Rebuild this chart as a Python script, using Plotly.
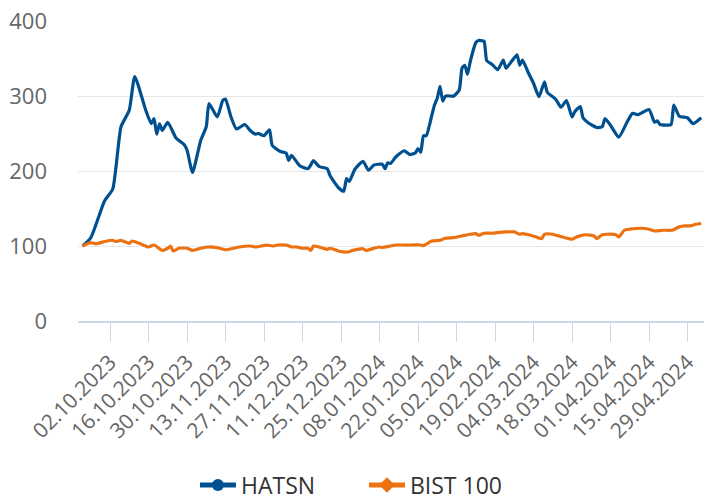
import plotly.graph_objects as go

# ---------------- data ----------------
hatsn_dates = [
    "2023-09-22", "2023-09-25", "2023-09-30", "2023-10-03", "2023-10-06", "2023-10-09",
    "2023-10-11", "2023-10-15", "2023-10-17", "2023-10-18", "2023-10-19", "2023-10-20",
    "2023-10-21", "2023-10-23", "2023-10-26", "2023-10-29", "2023-10-30", "2023-11-01",
    "2023-11-04", "2023-11-06", "2023-11-07", "2023-11-10", "2023-11-12", "2023-11-13",
    "2023-11-15", "2023-11-17", "2023-11-20", "2023-11-22", "2023-11-24", "2023-11-25",
    "2023-11-27", "2023-11-29", "2023-11-30", "2023-12-03", "2023-12-05", "2023-12-06",
    "2023-12-07", "2023-12-10", "2023-12-13", "2023-12-14", "2023-12-15", "2023-12-17",
    "2023-12-20", "2023-12-21", "2023-12-24", "2023-12-26", "2023-12-27", "2023-12-28",
    "2023-12-30", "2024-01-02", "2024-01-04", "2024-01-06", "2024-01-09", "2024-01-10",
    "2024-01-11", "2024-01-12", "2024-01-14", "2024-01-17", "2024-01-19", "2024-01-21",
    "2024-01-22", "2024-01-23", "2024-01-24", "2024-01-25", "2024-01-27", "2024-01-28",
    "2024-01-29", "2024-01-30", "2024-01-31", "2024-02-01", "2024-02-04", "2024-02-06",
    "2024-02-07", "2024-02-08", "2024-02-09", "2024-02-10", "2024-02-12", "2024-02-13",
    "2024-02-15", "2024-02-16", "2024-02-18", "2024-02-20", "2024-02-22", "2024-02-23",
    "2024-02-25", "2024-02-27", "2024-02-28", "2024-02-29", "2024-03-02", "2024-03-04",
    "2024-03-06", "2024-03-08", "2024-03-09", "2024-03-12", "2024-03-14", "2024-03-16",
    "2024-03-18", "2024-03-19", "2024-03-21", "2024-03-22", "2024-03-24", "2024-03-27",
    "2024-03-29", "2024-03-30", "2024-04-01", "2024-04-04", "2024-04-07", "2024-04-09",
    "2024-04-11", "2024-04-15", "2024-04-17", "2024-04-18", "2024-04-19", "2024-04-23",
    "2024-04-24", "2024-04-26", "2024-04-29", "2024-05-01", "2024-05-04",
]
hatsn_values = [
    100, 111, 160, 176, 259, 281,
    326, 281, 263, 270, 249, 263,
    254, 265, 244, 235, 228, 198,
    241, 259, 290, 272, 294, 296,
    272, 256, 262, 254, 249, 250,
    247, 255, 234, 226, 224, 214,
    221, 207, 203, 208, 214, 206,
    203, 194, 178, 173, 190, 186,
    202, 213, 201, 208, 209, 203,
    211, 210, 219, 227, 222, 224,
    230, 225, 247, 247, 274, 288,
    297, 313, 293, 300, 300, 308,
    337, 341, 329, 346, 371, 374,
    373, 347, 342, 335, 348, 337,
    346, 355, 341, 348, 332, 317,
    299, 319, 305, 296, 285, 294,
    272, 279, 286, 271, 264, 258,
    259, 270, 261, 245, 265, 277,
    275, 282, 265, 267, 262, 262,
    288, 273, 271, 263, 271,
]

bist_dates = [
    "2023-09-22", "2023-09-25", "2023-09-27", "2023-09-30", "2023-10-03", "2023-10-04",
    "2023-10-06", "2023-10-09", "2023-10-10", "2023-10-13", "2023-10-16", "2023-10-18",
    "2023-10-21", "2023-10-23", "2023-10-24", "2023-10-25", "2023-10-27", "2023-10-30",
    "2023-11-01", "2023-11-04", "2023-11-07", "2023-11-10", "2023-11-13", "2023-11-16",
    "2023-11-18", "2023-11-22", "2023-11-24", "2023-11-28", "2023-11-30", "2023-12-02",
    "2023-12-05", "2023-12-07", "2023-12-09", "2023-12-11", "2023-12-13", "2023-12-14",
    "2023-12-15", "2023-12-17", "2023-12-20", "2023-12-21", "2023-12-25", "2023-12-28",
    "2023-12-29", "2024-01-02", "2024-01-03", "2024-01-06", "2024-01-08", "2024-01-09",
    "2024-01-12", "2024-01-14", "2024-01-18", "2024-01-23", "2024-01-24", "2024-01-27",
    "2024-01-30", "2024-02-01", "2024-02-04", "2024-02-07", "2024-02-10", "2024-02-12",
    "2024-02-13", "2024-02-15", "2024-02-18", "2024-02-20", "2024-02-23", "2024-02-26",
    "2024-02-28", "2024-02-29", "2024-03-03", "2024-03-05", "2024-03-07", "2024-03-08",
    "2024-03-11", "2024-03-14", "2024-03-18", "2024-03-20", "2024-03-23", "2024-03-26",
    "2024-03-27", "2024-03-29", "2024-03-31", "2024-04-03", "2024-04-04", "2024-04-06",
    "2024-04-08", "2024-04-12", "2024-04-15", "2024-04-17", "2024-04-20", "2024-04-23",
    "2024-04-24", "2024-04-26", "2024-04-28", "2024-04-30", "2024-05-02", "2024-05-04",
]
bist_values = [
    100, 104.5, 103, 106, 107.6, 106,
    107.6, 103.6, 106.7, 103, 98.7, 101.3,
    94.2, 97, 100, 93.3, 97, 97,
    94.2, 97, 98.7, 97.7, 95, 97,
    98.7, 100, 98.7, 101.3, 100, 101.3,
    101.3, 98.7, 98.7, 97, 97, 94,
    100, 98.7, 95.6, 97, 92.4, 92.4,
    94, 96.4, 94, 97, 98.7, 98,
    100, 101.3, 101.3, 101.3, 100.5, 106.7,
    107.6, 110.3, 111.2, 113.4, 115.7, 116.5,
    114.3, 117, 117, 117.9, 118.8, 118.8,
    115.7, 116.5, 114.3, 112, 109.8, 115.7,
    115.7, 112.5, 109, 112.5, 115, 113.4,
    109.8, 115, 115.7, 115, 112, 121,
    122.4, 123.7, 122.4, 120, 121, 121,
    121.8, 125.5, 126.8, 126.8, 129, 130,
]

series_names = ["HATSN", "BIST 100"]
series_colors = ["#00508f", "#ec7211"]
series_symbols = ["circle", "diamond"]

y_ticks = [0, 100, 200, 300, 400]
x_tick_start = "2023-10-02"
x_tick_step_days = 14

# ---------------- figure ----------------
fig = go.Figure()
for name, xs, ys, col, sym in zip(series_names,
                                  [hatsn_dates, bist_dates],
                                  [hatsn_values, bist_values],
                                  series_colors, series_symbols):
    fig.add_trace(go.Scatter(
        x=xs, y=ys, name=name, mode="lines+markers",
        line=dict(color=col, width=3.2, shape="spline", smoothing=0.5),
        marker=dict(symbol=sym, size=0.001, color=col),
        hoverinfo="x+y+name",
    ))

fig.update_layout(
    width=704, height=500,
    margin=dict(l=78, r=0, t=21, b=179, pad=0),
    paper_bgcolor="white", plot_bgcolor="white",
    font=dict(family="Open Sans, Noto Sans, sans-serif", color="#666666"),
    showlegend=True,
    legend=dict(
        orientation="h", xref="container", yref="container",
        x=0.517, xanchor="center", y=0.03, yanchor="middle",
        font=dict(size=23, color="#333333"),
        itemsizing="constant", itemwidth=36,
        entrywidth=118,
        bgcolor="rgba(0,0,0,0)", borderwidth=0,
    ),
)

fig.update_xaxes(
    type="date", automargin=False,
    range=["2023-09-20 08:40", "2024-05-05 00:00"],
    tick0=x_tick_start, dtick=x_tick_step_days * 86400000,
    tickformat="%d.%m.%Y", tickangle=-45,
    tickfont=dict(size=21, color="#666666"),
    ticks="outside", ticklen=19, tickwidth=1.3, tickcolor="#ccd6eb",
    showline=True, linecolor="#ccd6eb", linewidth=1.5,
    showgrid=False, zeroline=False,
)
fig.update_yaxes(
    automargin=False,
    range=[0, 400], tickvals=y_ticks,
    tickfont=dict(size=22, color="#666666"),
    showgrid=True, gridcolor="#e6e6e6", gridwidth=1.2,
    zeroline=False, showline=False, ticks="",
    ticklabelstandoff=30,
)

fig.write_html(
    "out.html",
    config={"displayModeBar": False},
    post_script="document.body.style.margin='0';document.body.style.padding='0';",
)
